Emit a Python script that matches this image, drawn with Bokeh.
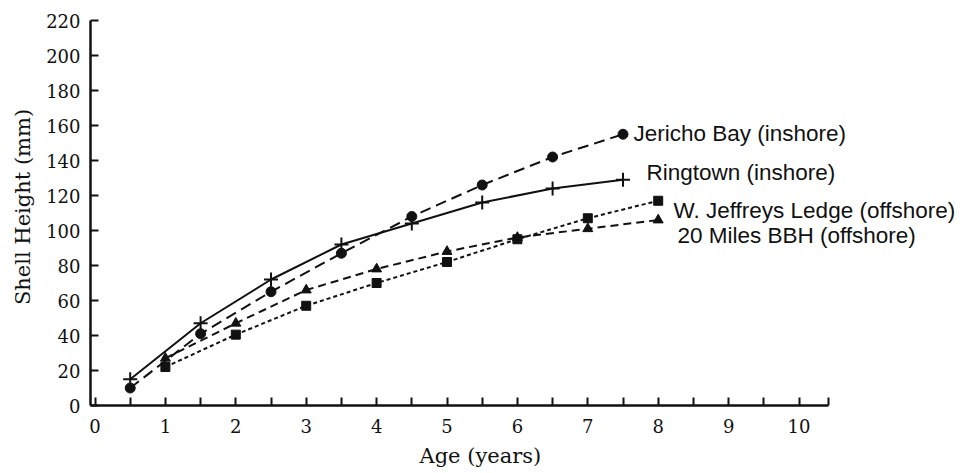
from bokeh.plotting import figure
from bokeh.models import Range1d, FixedTicker, Label, Title
from bokeh.embed import file_html
from bokeh.resources import INLINE

# ---- data ----
half_ages = [0.5, 1.5, 2.5, 3.5, 4.5, 5.5, 6.5, 7.5]
whole_ages = [1, 2, 3, 4, 5, 6, 7, 8]
jericho_bay = [10, 41, 65, 87, 108, 126, 142, 155]
ringtown = [15, 47, 72, 92, 104, 116, 124, 129]
w_jeffreys = [22, 40.5, 57, 70, 82, 95, 107, 117]
miles20_bbh = [27, 47, 66, 78, 88, 96, 101, 106]
series_names = ["Jericho Bay (inshore)", "Ringtown (inshore)",
                "W. Jeffreys Ledge (offshore)", "20 Miles BBH (offshore)"]
x_ticks = [0, 1, 2, 3, 4, 5, 6, 7, 8, 9, 10]
x_minor = [0.5, 1.5, 2.5, 3.5, 4.5, 5.5, 6.5, 7.5, 8.5, 9.5, 10.42]
y_ticks = [0, 20, 40, 60, 80, 100, 120, 140, 160, 180, 200, 220]

INK = "#111111"
SERIF = "DejaVu Serif"
SANS = "Liberation Sans"

p = figure(width=960, height=473, output_backend="svg", toolbar_location=None,
           x_range=Range1d(-0.064, 12.294), y_range=Range1d(0, 226.86),
           min_border_left=90, min_border_right=0, min_border_top=8, min_border_bottom=68)
p.outline_line_color = None
p.grid.visible = False
p.background_fill_color = "white"
p.border_fill_color = "white"

# lines + markers
p.line(half_ages, jericho_bay, line_color=INK, line_width=2, line_dash="11 6")
p.scatter(half_ages, jericho_bay, marker="circle", size=10, fill_color=INK, line_color=INK)

p.line(half_ages, ringtown, line_color=INK, line_width=2)
p.scatter(half_ages, ringtown, marker="cross", size=14, line_color=INK, line_width=2)

p.line(whole_ages, w_jeffreys, line_color=INK, line_width=2, line_dash="4 3")
p.scatter(whole_ages, w_jeffreys, marker="square", size=9, fill_color=INK, line_color=INK)

p.line(whole_ages, miles20_bbh, line_color=INK, line_width=2, line_dash="8 5")
p.scatter(whole_ages, miles20_bbh, marker="triangle", size=10, fill_color=INK, line_color=INK)

# series name labels
label_pos = [(7.649, 155.4), (7.834, 133.1), (8.217, 111.4), (8.273, 97.1)]
for name, (lx, ly) in zip(series_names, label_pos):
    p.add_layout(Label(x=lx, y=ly, text=name, text_font=SANS, text_font_size="22.5px",
                       text_color=INK, text_baseline="alphabetic", text_align="left"))

# axes
xa = p.xaxis[0]
xa.ticker = FixedTicker(ticks=x_ticks, minor_ticks=x_minor)
xa.bounds = (-0.064, 10.42)
ya = p.yaxis[0]
ya.ticker = FixedTicker(ticks=y_ticks)
ya.bounds = (0, 220)
ya.axis_label = "Shell Height (mm)"

for ax in (xa, ya):
    ax.axis_line_color = INK
    ax.axis_line_width = 2.5
    ax.major_tick_line_color = INK
    ax.major_tick_line_width = 2
    ax.major_tick_in = 8
    ax.major_tick_out = 0
    ax.minor_tick_line_color = INK
    ax.minor_tick_line_width = 2
    ax.minor_tick_in = 8
    ax.minor_tick_out = 0
    ax.major_label_text_font = SERIF
    ax.major_label_text_font_size = "18px"
    ax.major_label_text_color = INK
    ax.axis_label_text_font = SERIF
    ax.axis_label_text_font_size = "21px"
    ax.axis_label_text_font_style = "normal"
    ax.axis_label_text_color = INK
ya.minor_tick_line_color = None
xa.major_label_standoff = 13
ya.major_label_standoff = 10
ya.axis_label_standoff = 8

# x-axis title, positioned under the drawn axis extent
p.add_layout(Title(text="Age (years)", align="left", offset=329, text_font=SERIF,
                   text_font_size="21px", text_font_style="normal", text_color=INK,
                   vertical_align="bottom", standoff=12), "below")

open("out.html", "w").write(file_html(p, INLINE))
